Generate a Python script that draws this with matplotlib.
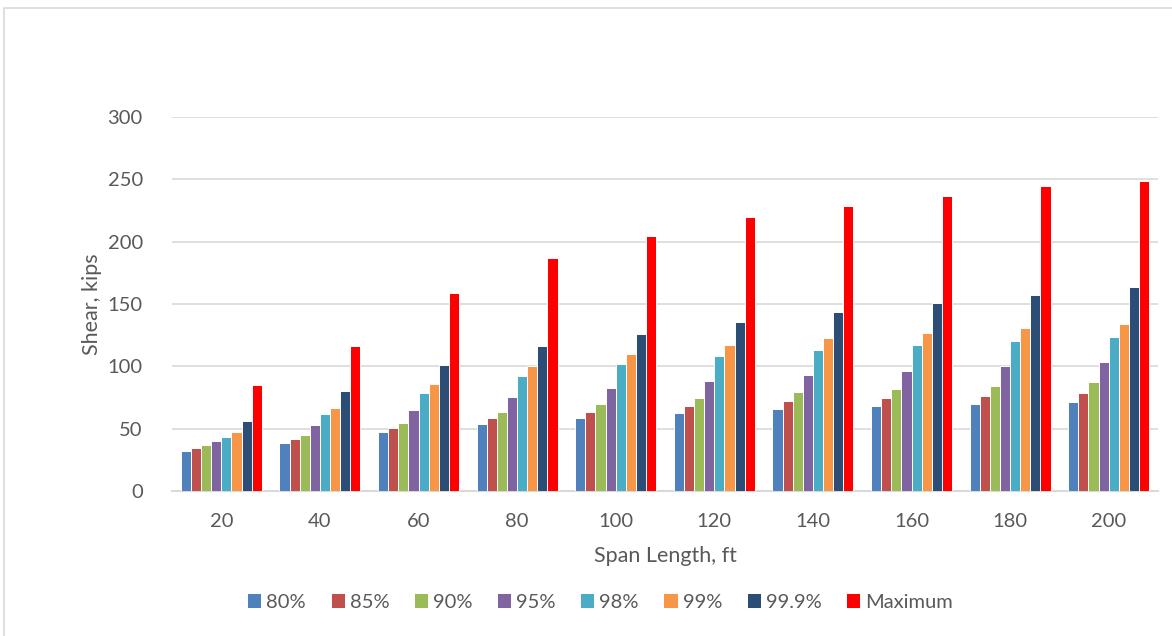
import matplotlib
matplotlib.use("Agg")
import matplotlib.pyplot as plt
import numpy as np
from matplotlib.patches import Rectangle

spans = ["20", "40", "60", "80", "100", "120", "140", "160", "180", "200"]
series_names = ["80%", "85%", "90%", "95%", "98%", "99%", "99.9%", "Maximum"]
p80 = [32, 38.9, 47, 54, 58.7, 62.7, 65.5, 67.8, 69.6, 71.5]
p85 = [34.3, 41.5, 50.6, 58.2, 63.7, 67.8, 71.9, 74.2, 76.3, 78.8]
p90 = [36.7, 45.3, 54.7, 63.3, 69.6, 74.8, 79.1, 82.2, 84.3, 87.1]
p95 = [39.9, 52.6, 64.9, 75.4, 82.5, 88.5, 92.8, 96.6, 100, 103.2]
p98 = [43.7, 61.5, 78.9, 92.3, 101.6, 108.3, 113.4, 117.4, 120.6, 123.4]
p99 = [47, 66.8, 85.9, 100.5, 109.7, 117.2, 122.5, 127, 130.8, 133.9]
p999 = [55.8, 80.5, 101.2, 116.5, 126.3, 135.2, 143.9, 151, 157.4, 163.4]
pmax = [84.8, 116.3, 158.6, 186.5, 204.6, 219.9, 228.4, 236.3, 244.6, 249]
yticks = [0, 50, 100, 150, 200, 250, 300]

series = [p80, p85, p90, p95, p98, p99, p999, pmax]
colors = ["#4F81BD", "#C0504D", "#9BBB59", "#8064A2", "#4BACC6", "#F79646", "#2C4D75", "#FF0000"]

plt.rcParams['font.family'] = ['Lato', 'DejaVu Sans']
txt = "#595959"

fig = plt.figure(figsize=(11.72, 6.36), dpi=100)
# outer chart frame (cropped in the reference)
fig.patches.append(Rectangle((4/1172, -0.1), 1.2, 1 - 8/636 + 0.1, transform=fig.transFigure,
                             fill=False, edgecolor="#D9D9D9", linewidth=1.2, zorder=0))

ax = fig.add_axes([172/1172, (636-491)/636, 986/1172, 374/636])
x = np.arange(len(spans))
n = len(series)
group_w = 0.82
bw = group_w / n
for i, (vals, c, name) in enumerate(zip(series, colors, series_names)):
    ax.bar(x - group_w/2 + bw*(i+0.5), vals, width=bw, color=c, edgecolor="white",
           linewidth=0.7, label=name, zorder=3)

ax.set_xlim(-0.5, len(spans) - 0.5)
ax.set_ylim(0, 300)
ax.set_yticks(yticks)
ax.set_xticks(x)
ax.set_xticklabels(spans)
ax.grid(axis='y', color="#D9D9D9", linewidth=1.2, zorder=0)
for s in ["top", "right", "left"]:
    ax.spines[s].set_visible(False)
ax.spines["bottom"].set_color("#D9D9D9")
ax.spines["bottom"].set_linewidth(1.5)
ax.tick_params(axis='both', length=0, labelsize=14.5, colors=txt)
ax.tick_params(axis='y', pad=21)
ax.tick_params(axis='x', pad=16)
ax.set_ylabel("Shear, kips", fontsize=15.5, color=txt, labelpad=4)
ax.set_xlabel("Span Length, ft", fontsize=15.5, color=txt, labelpad=11)

fig.legend(loc="center", bbox_to_anchor=(0.512, 1 - 602/636), ncol=8, frameon=False,
           fontsize=14.5, labelcolor=txt, handlelength=0.7, handleheight=0.7,
           handletextpad=0.25, columnspacing=1.22)

fig.savefig("out.png", dpi=100)
